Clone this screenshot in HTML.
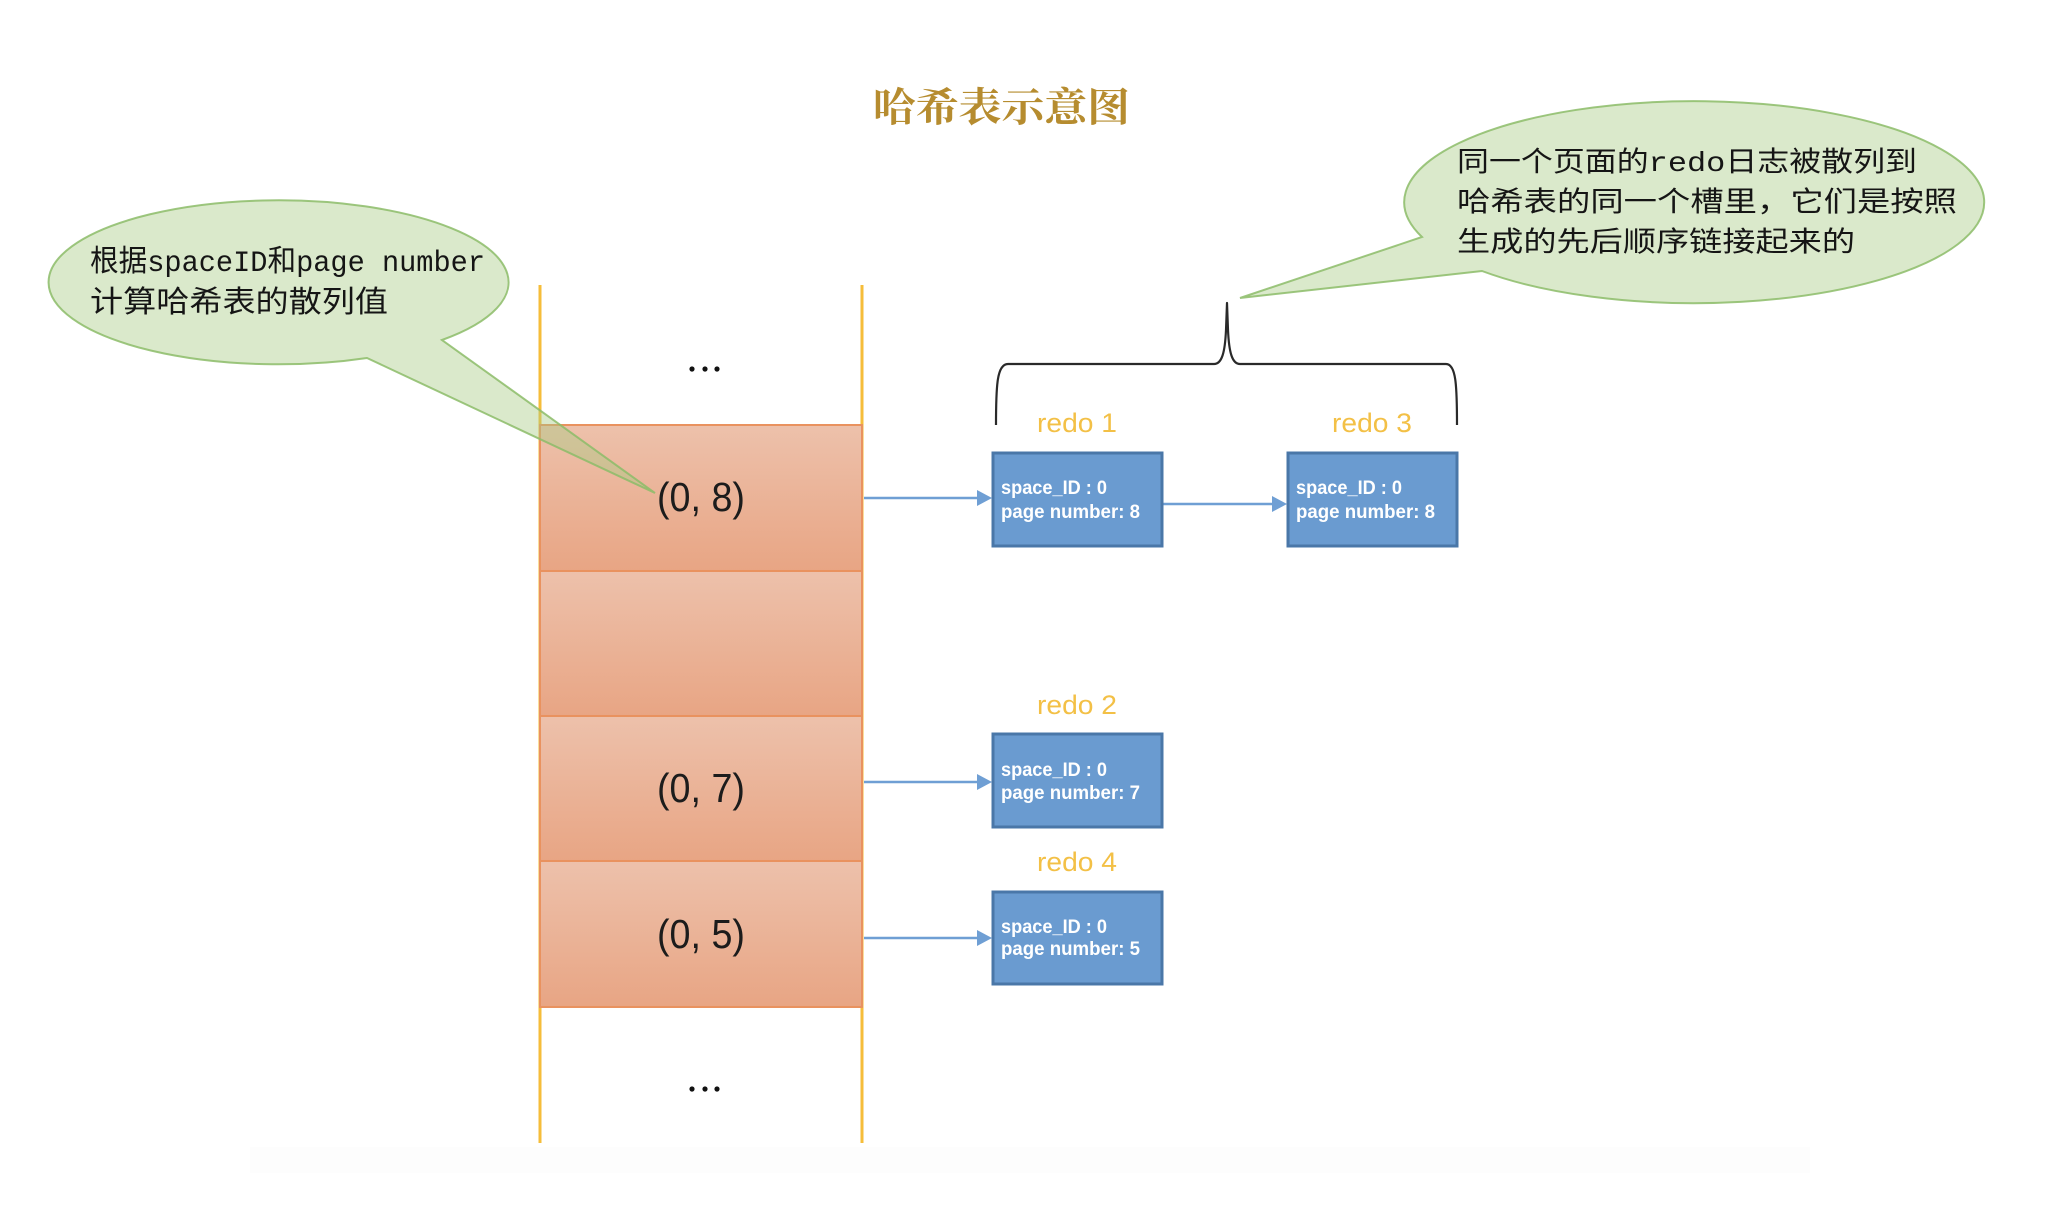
<!DOCTYPE html>
<html>
<head>
<meta charset="utf-8">
<style>
  html, body { margin: 0; padding: 0; background: #ffffff; }
  body { width: 2070px; height: 1212px; overflow: hidden; }
  svg { display: block; }
</style>
</head>
<body>
<svg width="2070" height="1212" viewBox="0 0 2070 1212" xmlns="http://www.w3.org/2000/svg">
  <defs>
    <linearGradient id="og" x1="0" y1="0" x2="0" y2="1">
      <stop offset="0" stop-color="#edc1ab"/>
      <stop offset="1" stop-color="#e8a584"/>
    </linearGradient>
  </defs>

  <rect x="0" y="0" width="2070" height="1212" fill="#ffffff"/>
  <rect x="250" y="1147" width="1560" height="26" fill="#fdfdfd"/>

  <!-- Title -->
  <text x="873" y="121" font-family="'Noto Serif CJK SC', 'Noto Sans CJK SC', serif" font-weight="700" font-size="40" fill="#b68c2f" textLength="257" lengthAdjust="spacingAndGlyphs">哈希表示意图</text>

  <!-- hash table vertical lines -->
  <line x1="540" y1="285" x2="540" y2="1143" stroke="#f6bd3a" stroke-width="3"/>
  <line x1="862" y1="285" x2="862" y2="1143" stroke="#f6bd3a" stroke-width="3"/>

  <!-- dots -->
  <circle cx="692" cy="369" r="2.6" fill="#111"/>
  <circle cx="705" cy="369" r="2.6" fill="#111"/>
  <circle cx="717" cy="369" r="2.6" fill="#111"/>
  <circle cx="692" cy="1089" r="2.6" fill="#111"/>
  <circle cx="705" cy="1089" r="2.6" fill="#111"/>
  <circle cx="717" cy="1089" r="2.6" fill="#111"/>

  <!-- slots -->
  <rect x="540" y="425" width="322" height="146" fill="url(#og)" stroke="#e9925f" stroke-width="2"/>
  <rect x="540" y="571" width="322" height="145" fill="url(#og)" stroke="#e9925f" stroke-width="2"/>
  <rect x="540" y="716" width="322" height="145" fill="url(#og)" stroke="#e9925f" stroke-width="2"/>
  <rect x="540" y="861" width="322" height="146" fill="url(#og)" stroke="#e9925f" stroke-width="2"/>

  <text x="657" y="511" font-family="'Liberation Sans', sans-serif" font-size="41" fill="#1c1c1c" textLength="88" lengthAdjust="spacingAndGlyphs">(0, 8)</text>
  <text x="657" y="802" font-family="'Liberation Sans', sans-serif" font-size="41" fill="#1c1c1c" textLength="88" lengthAdjust="spacingAndGlyphs">(0, 7)</text>
  <text x="657" y="948" font-family="'Liberation Sans', sans-serif" font-size="41" fill="#1c1c1c" textLength="88" lengthAdjust="spacingAndGlyphs">(0, 5)</text>

  <!-- arrows -->
  <g stroke="#6f9fd4" stroke-width="2.5" fill="none">
    <line x1="864" y1="498" x2="980" y2="498"/>
    <line x1="1163" y1="504" x2="1275" y2="504"/>
    <line x1="864" y1="782" x2="980" y2="782"/>
    <line x1="864" y1="938" x2="980" y2="938"/>
  </g>
  <g fill="#6f9fd4">
    <polygon points="977,490 992,498 977,506"/>
    <polygon points="1272,496 1287,504 1272,512"/>
    <polygon points="977,774 992,782 977,790"/>
    <polygon points="977,930 992,938 977,946"/>
  </g>

  <!-- redo boxes -->
  <g fill="#6a9bd0" stroke="#4a77a8" stroke-width="3">
    <rect x="993" y="453" width="169" height="93"/>
    <rect x="1288" y="453" width="169" height="93"/>
    <rect x="993" y="734" width="169" height="93"/>
    <rect x="993" y="892" width="169" height="92"/>
  </g>
  <g font-family="'Liberation Sans', sans-serif" font-weight="700" font-size="19" fill="#ffffff">
    <text x="1001" y="494" textLength="106" lengthAdjust="spacingAndGlyphs">space_ID : 0</text>
    <text x="1001" y="518" textLength="139" lengthAdjust="spacingAndGlyphs">page number: 8</text>
    <text x="1296" y="494" textLength="106" lengthAdjust="spacingAndGlyphs">space_ID : 0</text>
    <text x="1296" y="518" textLength="139" lengthAdjust="spacingAndGlyphs">page number: 8</text>
    <text x="1001" y="776" textLength="106" lengthAdjust="spacingAndGlyphs">space_ID : 0</text>
    <text x="1001" y="799" textLength="139" lengthAdjust="spacingAndGlyphs">page number: 7</text>
    <text x="1001" y="933" textLength="106" lengthAdjust="spacingAndGlyphs">space_ID : 0</text>
    <text x="1001" y="955" textLength="139" lengthAdjust="spacingAndGlyphs">page number: 5</text>
  </g>

  <!-- redo labels -->
  <g font-family="'Liberation Sans', sans-serif" font-size="27" fill="#f3c046">
    <text x="1037" y="432" textLength="80" lengthAdjust="spacingAndGlyphs">redo 1</text>
    <text x="1332" y="432" textLength="80" lengthAdjust="spacingAndGlyphs">redo 3</text>
    <text x="1037" y="714" textLength="80" lengthAdjust="spacingAndGlyphs">redo 2</text>
    <text x="1037" y="871" textLength="80" lengthAdjust="spacingAndGlyphs">redo 4</text>
  </g>

  <!-- curly brace -->
  <path d="M996,425 C996,385 997,364 1008,364 L1214,364 C1222,364 1225,352 1226,330 L1227,303 L1228,330 C1229,352 1232,364 1240,364 L1446,364 C1456,364 1457,385 1457,425"
        fill="none" stroke="#2a2a2a" stroke-width="2.2" stroke-linejoin="round"/>

  <!-- left balloon -->
  <path d="M442,340 A230 82 0 1 0 367,358 L655,493 Z"
        fill="rgba(166,202,130,0.42)" stroke="rgba(140,188,105,0.85)" stroke-width="2"/>
  <g font-family="'Liberation Mono', 'Noto Sans CJK SC', monospace" font-size="30" fill="#151515">
    <text x="90" y="271" textLength="395" lengthAdjust="spacingAndGlyphs">根据spaceID和page number</text>
    <text x="90" y="312" textLength="298" lengthAdjust="spacingAndGlyphs">计算哈希表的散列值</text>
  </g>

  <!-- right balloon -->
  <path d="M1422,237 A290 101 0 1 1 1482,271 L1240,298 Z"
        fill="rgba(166,202,130,0.42)" stroke="rgba(140,188,105,0.85)" stroke-width="2"/>
  <g font-family="'Liberation Mono', 'Noto Sans CJK SC', monospace" font-size="28" fill="#151515">
    <text x="1457" y="171" textLength="460" lengthAdjust="spacingAndGlyphs">同一个页面的redo日志被散列到</text>
    <text x="1457" y="211" textLength="500" lengthAdjust="spacingAndGlyphs">哈希表的同一个槽里，它们是按照</text>
    <text x="1457" y="251" textLength="398" lengthAdjust="spacingAndGlyphs">生成的先后顺序链接起来的</text>
  </g>
</svg>
</body>
</html>
